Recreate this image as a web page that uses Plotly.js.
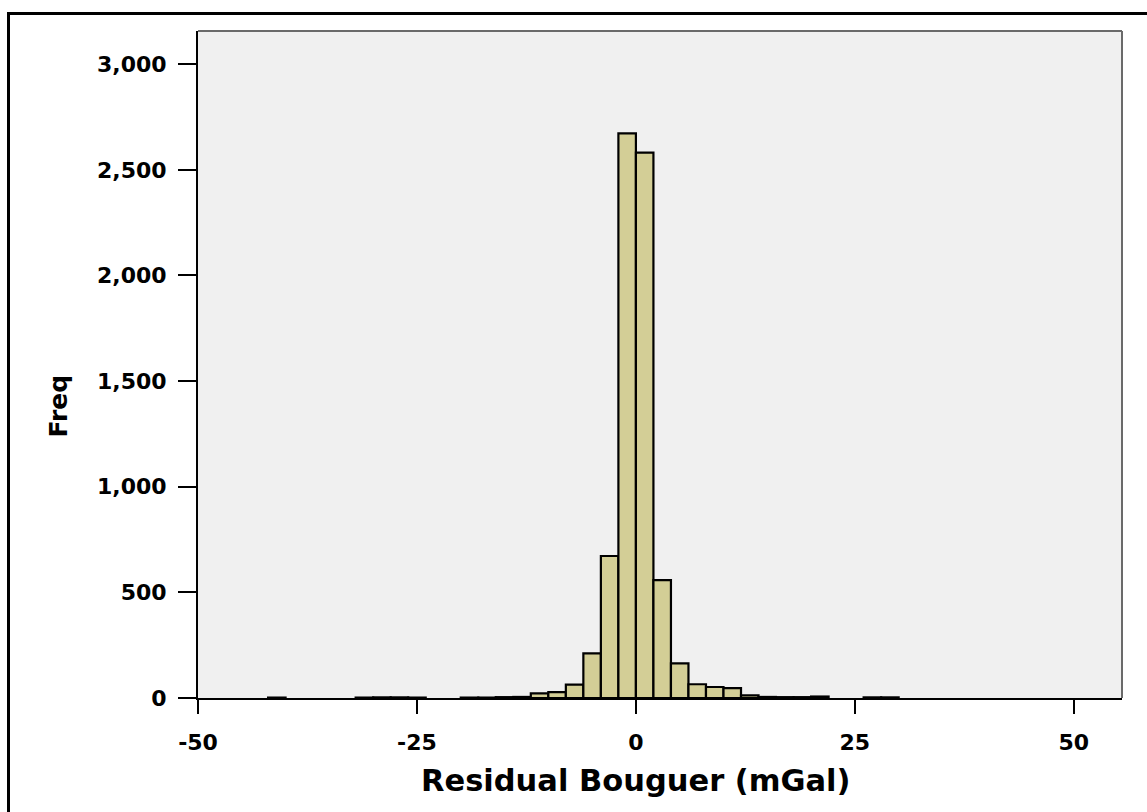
<!DOCTYPE html>
<html>
<head>
<meta charset="utf-8">
<script src="https://cdn.plot.ly/plotly-3.0.1.min.js"></script>
<style>
  html, body { margin: 0; padding: 0; background: #ffffff; overflow: hidden; }
  #chart { position: absolute; left: 0; top: 0; width: 1147px; height: 812px; }
  #frame { position: absolute; left: 7px; top: 12px; width: 1200px; height: 900px;
           border-left: 3px solid #000; border-top: 3px solid #000; pointer-events: none; }
</style>
</head>
<body>
<div id="chart"></div>
<div id="frame"></div>
<script>
// Histogram bins (left edge, mGal) and frequencies
const binLeft = [-42, -32, -30, -28, -26, -20, -18, -16, -14, -12, -10, -8, -6, -4, -2, 0, 2, 4, 6, 8, 10, 12, 14, 16, 18, 20, 26, 28];
const freq    = [  2,   2,   3,   3,   2,   2,   2,   4,   5,  22,  28, 63, 211, 672, 2672, 2581, 558, 164, 65, 52, 47, 12, 5, 4, 4, 7, 3, 3];
const binWidth = 2;
const xTickVals = [-50, -25, 0, 25, 50];
const yTickVals = [0, 500, 1000, 1500, 2000, 2500, 3000];
const xTitle = 'Residual Bouguer (mGal)';
const yTitle = 'Freq';

const font = 'DejaVu Sans, Verdana, sans-serif';

const trace = {
  type: 'bar',
  x: binLeft,
  y: freq,
  width: binLeft.map(() => binWidth),
  offset: 0,
  marker: { color: '#d3ce96', line: { color: '#000000', width: 2.2 } },
  hoverinfo: 'x+y'
};

const layout = {
  width: 1147, height: 812,
  margin: { l: 198, r: 25, t: 31, b: 114 },
  paper_bgcolor: '#ffffff',
  plot_bgcolor: '#f0f0f0',
  showlegend: false,
  bargap: 0,
  xaxis: {
    range: [-50, 55.5],
    tickvals: xTickVals,
    ticktext: xTickVals.map(String),
    ticks: 'outside', ticklen: 14, tickwidth: 2, tickcolor: '#000',
    showline: true, linecolor: '#000', linewidth: 2,
    showgrid: false, zeroline: false,
    ticklabelstandoff: 10,
    tickfont: { family: font, size: 22, color: '#000', weight: 'bold' }
  },
  yaxis: {
    range: [0, 3157],
    tickvals: yTickVals,
    tickformat: ',d',
    ticks: 'outside', ticklen: 18, tickwidth: 2, tickcolor: '#000',
    showline: true, linecolor: '#000', linewidth: 2,
    showgrid: false, zeroline: false,
    ticklabelstandoff: 7,
    tickfont: { family: font, size: 22, color: '#000', weight: 'bold' }
  },
  shapes: [
    { type: 'line', xref: 'paper', yref: 'paper', x0: 0, x1: 1, y0: 1, y1: 1, line: { color: '#6a6a6a', width: 2 } },
    { type: 'line', xref: 'paper', yref: 'paper', x0: 1, x1: 1, y0: 0, y1: 1, line: { color: '#6a6a6a', width: 2 } }
  ],
  annotations: [
    { text: xTitle, xref: 'x', x: 0, yref: 'paper', y: 0, yshift: -82, yanchor: 'middle', xanchor: 'center',
      showarrow: false, font: { family: font, size: 30.5, color: '#000', weight: 'bold' } },
    { text: yTitle, xref: 'paper', x: 0, xshift: -140, xanchor: 'center', yref: 'y', y: 1380, yanchor: 'middle',
      textangle: -90, showarrow: false, font: { family: font, size: 25, color: '#000', weight: 'bold' } }
  ]
};

Plotly.newPlot('chart', [trace], layout, { displayModeBar: false, staticPlot: true });
</script>
</body>
</html>
